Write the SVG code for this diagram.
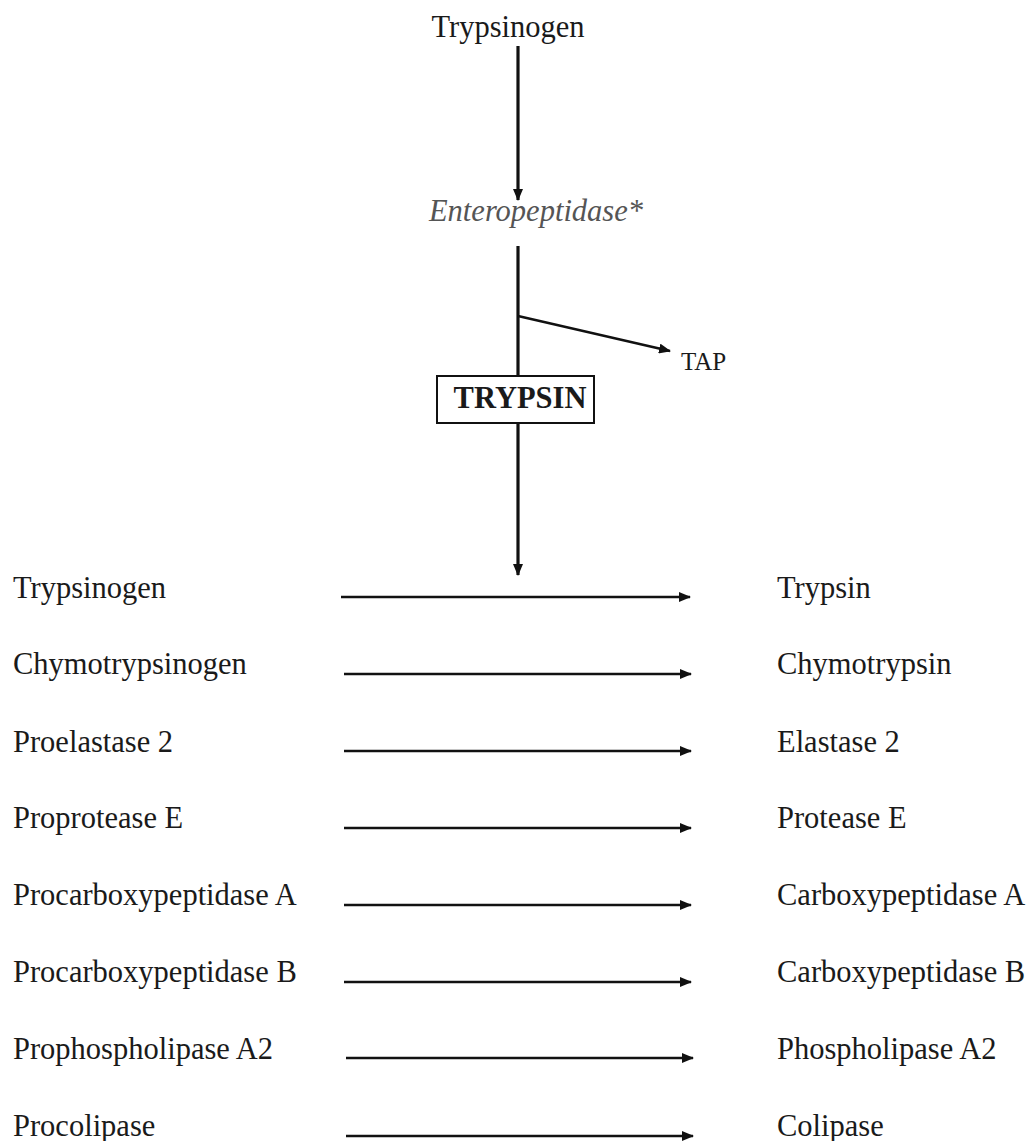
<svg xmlns="http://www.w3.org/2000/svg" width="1035" height="1141" viewBox="0 0 1035 1141">
<style>
text{font-family:"Liberation Serif","Times New Roman",serif;font-size:30.5px;fill:#1a1a1a}
.it{font-style:italic;fill:#555}
.b{font-weight:bold}
.sm{font-size:25px}
.v{stroke:#111;stroke-width:3.2;fill:none}
.h{stroke:#111;stroke-width:2.4;fill:none}
</style>
<defs>
<marker id="ah" markerUnits="userSpaceOnUse" markerWidth="12" markerHeight="10" refX="11" refY="5" orient="auto">
<path d="M0,0 L12,5 L0,10 Z" fill="#111"/>
</marker>
</defs>
<rect width="1035" height="1141" fill="#fff"/>
<g id="connectors">
<line class="v" x1="518" y1="46" x2="518" y2="200" marker-end="url(#ah)"/>
<line class="v" x1="518" y1="246" x2="518" y2="376"/>
<line class="v" x1="518" y1="423" x2="518" y2="575" marker-end="url(#ah)"/>
<line class="h" x1="518" y1="316" x2="670" y2="351" marker-end="url(#ah)"/>
<line class="h" x1="341" y1="597" x2="690" y2="597" marker-end="url(#ah)"/>
<line class="h" x1="344" y1="674" x2="691" y2="674" marker-end="url(#ah)"/>
<line class="h" x1="344" y1="751" x2="691" y2="751" marker-end="url(#ah)"/>
<line class="h" x1="344" y1="828" x2="691" y2="828" marker-end="url(#ah)"/>
<line class="h" x1="344" y1="905" x2="691" y2="905" marker-end="url(#ah)"/>
<line class="h" x1="344" y1="982" x2="691" y2="982" marker-end="url(#ah)"/>
<line class="h" x1="346" y1="1058" x2="693" y2="1058" marker-end="url(#ah)"/>
<line class="h" x1="346" y1="1136" x2="693" y2="1136" marker-end="url(#ah)"/>
</g>
<g id="trypsinogen-top"><text x="508" y="37" text-anchor="middle">Trypsinogen</text></g>
<g id="enteropeptidase"><text class="it" x="536" y="221" text-anchor="middle">Enteropeptidase*</text></g>
<g id="tap"><text class="sm" x="681" y="370">TAP</text></g>
<g id="trypsin-box">
<rect x="437" y="376" width="157" height="47" fill="#fff" stroke="#111" stroke-width="2"/>
<text class="b" x="520" y="408" text-anchor="middle">TRYPSIN</text>
</g>
<g id="row1"><text x="13" y="598">Trypsinogen</text><text x="777" y="598">Trypsin</text></g>
<g id="row2"><text x="13" y="674">Chymotrypsinogen</text><text x="777" y="674">Chymotrypsin</text></g>
<g id="row3"><text x="13" y="752">Proelastase 2</text><text x="777" y="752">Elastase 2</text></g>
<g id="row4"><text x="13" y="828">Proprotease E</text><text x="777" y="828">Protease E</text></g>
<g id="row5"><text x="13" y="905">Procarboxypeptidase A</text><text x="777" y="905">Carboxypeptidase A</text></g>
<g id="row6"><text x="13" y="982">Procarboxypeptidase B</text><text x="777" y="982">Carboxypeptidase B</text></g>
<g id="row7"><text x="13" y="1059">Prophospholipase A2</text><text x="777" y="1059">Phospholipase A2</text></g>
<g id="row8"><text x="13" y="1136">Procolipase</text><text x="777" y="1136">Colipase</text></g>
</svg>
